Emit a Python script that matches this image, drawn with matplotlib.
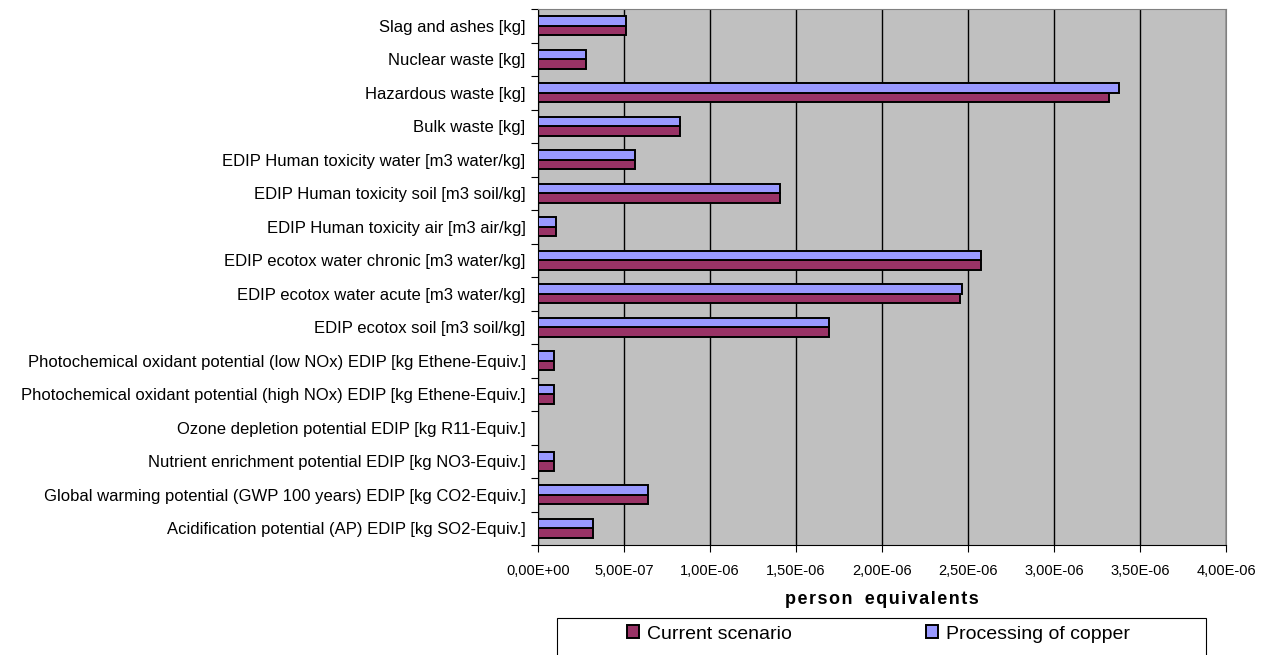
import matplotlib
matplotlib.use("Agg")
import matplotlib.pyplot as plt
from matplotlib.ticker import FuncFormatter, FixedLocator
from matplotlib.patches import Rectangle
import numpy as np

plt.rcParams['font.family'] = ['Liberation Sans', 'DejaVu Sans']

# categories listed bottom to top, as drawn on the y axis
categories = [
    "Acidification potential (AP) EDIP [kg SO2-Equiv.]",
    "Global warming potential (GWP 100 years) EDIP [kg CO2-Equiv.]",
    "Nutrient enrichment potential EDIP [kg NO3-Equiv.]",
    "Ozone depletion potential EDIP [kg R11-Equiv.]",
    "Photochemical oxidant potential (high NOx) EDIP [kg Ethene-Equiv.]",
    "Photochemical oxidant potential (low NOx) EDIP [kg Ethene-Equiv.]",
    "EDIP ecotox soil [m3 soil/kg]",
    "EDIP ecotox water acute [m3 water/kg]",
    "EDIP ecotox water chronic [m3 water/kg]",
    "EDIP Human toxicity air [m3 air/kg]",
    "EDIP Human toxicity soil [m3 soil/kg]",
    "EDIP Human toxicity water [m3 water/kg]",
    "Bulk waste [kg]",
    "Hazardous waste [kg]",
    "Nuclear waste [kg]",
    "Slag and ashes [kg]",
]
current = [3.18e-7, 6.37e-7, 9.5e-8, 0.0, 9.5e-8, 9.5e-8, 1.692e-6, 2.455e-6,
           2.574e-6, 1.05e-7, 1.405e-6, 5.64e-7, 8.27e-7, 3.318e-6, 2.77e-7, 5.1e-7]
processing = [3.18e-7, 6.37e-7, 9.5e-8, 0.0, 9.5e-8, 9.5e-8, 1.692e-6, 2.467e-6,
              2.574e-6, 1.05e-7, 1.405e-6, 5.64e-7, 8.27e-7, 3.378e-6, 2.77e-7, 5.1e-7]
series_names = ["Current scenario", "Processing of copper"]
x_ticks = np.arange(0, 4.01e-6, 5e-7)

fig = plt.figure(figsize=(12.66, 6.55), dpi=100)
ax = fig.add_axes([538/1266, 1-545/655, (1226-538)/1266, (545-9)/655])
ax.set_facecolor('#C0C0C0')

y = np.arange(len(categories))
h = 0.28
ax.barh(y - h/2, current, height=h, color='#993366', edgecolor='black', linewidth=1.4, label=series_names[0], zorder=3)
ax.barh(y + h/2, processing, height=h, color='#9999FF', edgecolor='black', linewidth=1.4, label=series_names[1], zorder=3)

ax.set_xlim(0, 4e-6)
ax.set_ylim(-0.5, len(categories) - 0.5)
ax.set_xticks(x_ticks)
ax.xaxis.set_major_formatter(FuncFormatter(lambda v, p: f"{v:.2E}".replace('.', ',')))
ax.xaxis.grid(True, color='black', linewidth=1, zorder=0)
ax.set_axisbelow(True)

ax.yaxis.set_major_locator(FixedLocator(np.arange(-0.5, len(categories), 1)))
ax.yaxis.set_minor_locator(FixedLocator(y))
ax.set_yticklabels([], minor=False)
ax.set_yticklabels(categories, minor=True, fontsize=12)
ax.tick_params(axis='y', which='major', length=5, direction='out')
ax.tick_params(axis='y', which='minor', length=0, pad=9)
ax.tick_params(axis='x', length=5, direction='out', labelsize=10.5, pad=9)

for side in ['top', 'right']:
    ax.spines[side].set_color('#808080')
ax.spines['left'].set_color('black')
ax.spines['bottom'].set_color('black')

xlab = "\u200a".join("person equivalents").replace("\u200a \u200a", "\u2009 \u2009")
ax.set_xlabel(xlab, fontsize=13, fontweight='bold', labelpad=9)

# legend box runs off the bottom edge like the original
fig.add_artist(Rectangle((557/1266, -0.05), (1206-557)/1266, 0.05 + 1-618/655,
                         transform=fig.transFigure, facecolor='white',
                         edgecolor='black', linewidth=0.8, clip_on=False))
handles, labels = ax.get_legend_handles_labels()
leg = fig.legend(handles, labels, loc='center left', ncol=2, frameon=False,
                 bbox_to_anchor=(627/1266, 1-634/655), fontsize=14,
                 handlelength=0.62, handleheight=0.62, handletextpad=0.41,
                 columnspacing=6.9, borderpad=0, borderaxespad=0)

fig.savefig('out.png', dpi=100)
